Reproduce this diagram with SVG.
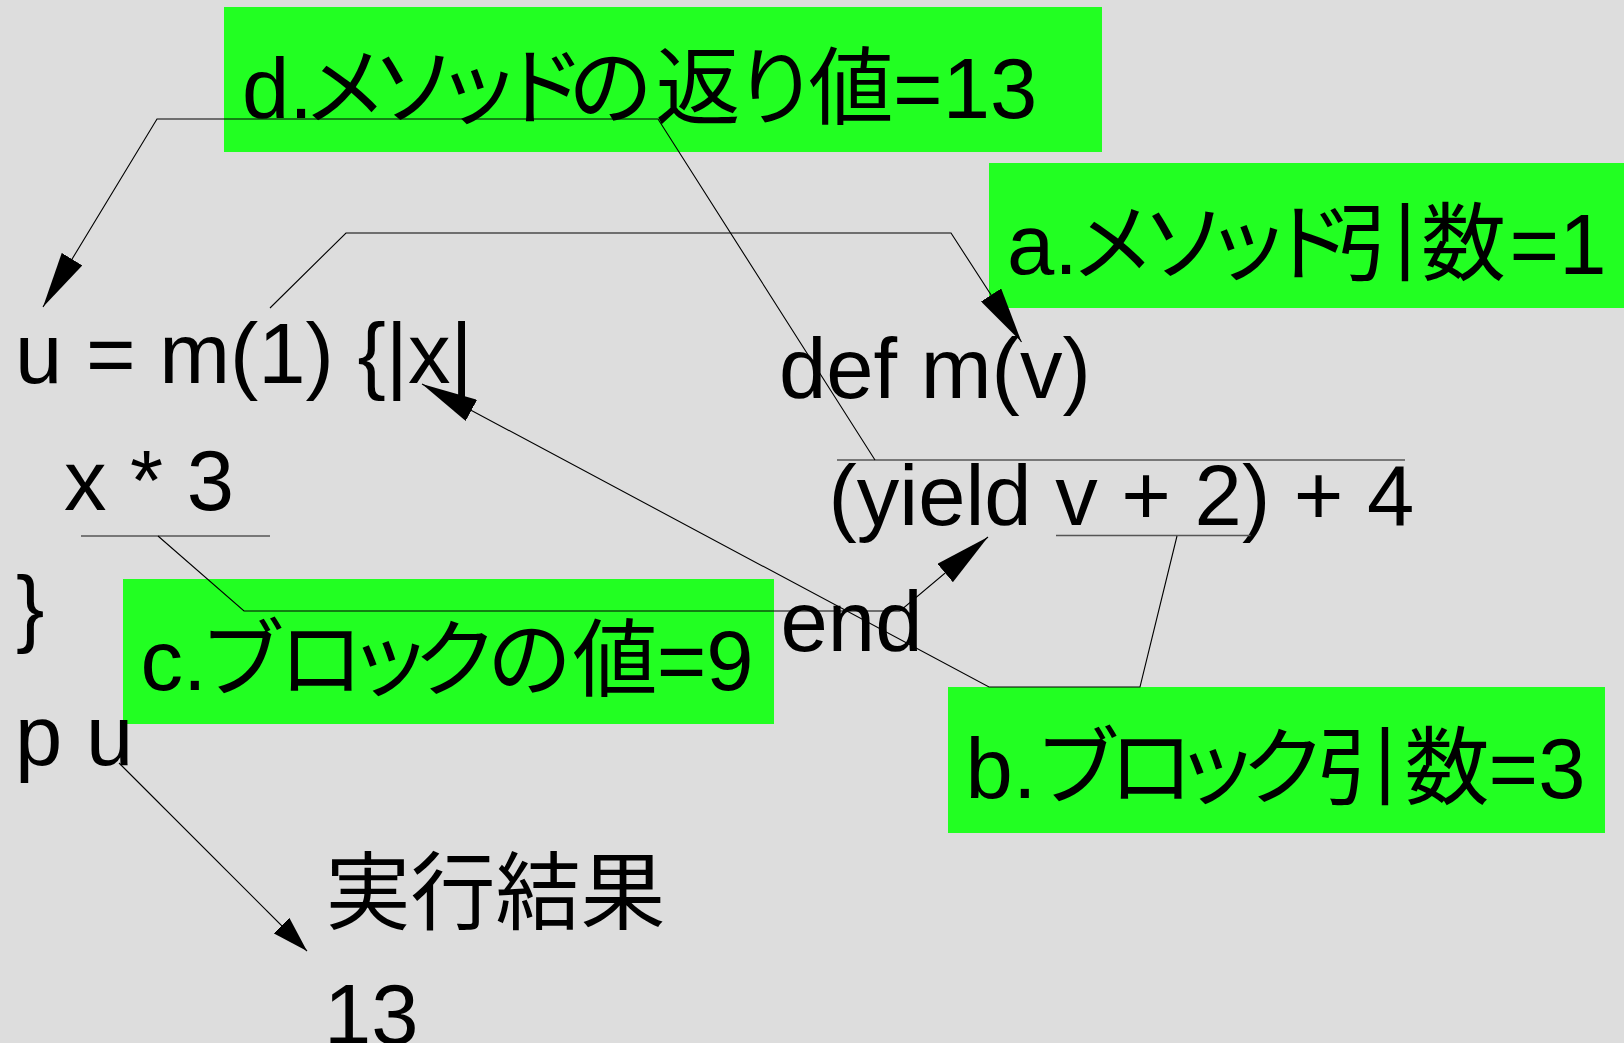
<svg xmlns="http://www.w3.org/2000/svg" width="1624" height="1043" viewBox="0 0 1624 1043">
<defs>
<style>
.t{font-family:"Liberation Sans","Noto Sans CJK JP",Arial,sans-serif;font-size:85px;fill:#000}
.box{fill:#22ff22}
.ln{fill:none;stroke:#000;stroke-width:1.1}
.ul{fill:none;stroke:#555;stroke-width:1.6}
</style>
<marker id="ah" markerUnits="userSpaceOnUse" viewBox="0 0 56 24" refX="56" refY="12" markerWidth="56" markerHeight="24" orient="auto"><path d="M0,0 L56,12 L0,24 z" fill="#000"/></marker>
<marker id="ahs" markerUnits="userSpaceOnUse" viewBox="0 0 36 22" refX="36" refY="11" markerWidth="36" markerHeight="22" orient="auto"><path d="M0,0 L36,11 L0,22 z" fill="#000"/></marker>
</defs>
<rect width="1624" height="1043" fill="#dddddd"/>

<g id="label-d">
<rect class="box" x="224" y="7" width="878" height="145"/>
<text class="t" x="242 289.3 302.5 371.5 436 500.5 568 655.5 733.5 808.5 893" y="118">d.メソッドの返り値=13</text>
</g>
<g id="label-a">
<rect class="box" x="989" y="163" width="635" height="145"/>
<text class="t" x="1007 1054.3 1070.3 1141.5 1205.4 1269 1336 1421 1509.5" y="274">a.メソッド引数=1</text>
</g>
<g id="label-c">
<rect class="box" x="123" y="579" width="651" height="145"/>
<text class="t" x="140.5 183 199.5 278.5 347.5 413 487 572.5 656.7" y="690">c.ブロックの値=9</text>
</g>
<g id="label-b">
<rect class="box" x="948" y="687" width="657" height="146"/>
<text class="t" x="965.6 1012.9 1034.5 1108.5 1174.5 1241 1316 1404.5 1488.6" y="798">b.ブロック引数=3</text>
</g>

<g id="code-call"><text class="t" x="15" y="383">u = m(1) {|x|</text></g>
<g id="code-block"><text class="t" x="64" y="510">x * 3</text></g>
<g id="code-close"><text class="t" x="16" y="636">}</text></g>
<g id="code-print"><text class="t" x="15" y="765">p u</text></g>
<g id="code-def"><text class="t" x="779" y="398">def m(v)</text></g>
<g id="code-yield"><text class="t" x="828.5" y="525">(yield v + 2) + 4</text></g>
<g id="code-end"><text class="t" x="780.6" y="651">end</text></g>
<g id="result-title"><text class="t" x="325.5" y="923">実行結果</text></g>
<g id="result-value"><text class="t" x="324" y="1044">13</text></g>

<g id="connectors">
<line class="ul" x1="837" y1="460" x2="1405" y2="460"/>
<line class="ul" x1="1056" y1="535.5" x2="1250.5" y2="535.5"/>
<line class="ul" x1="81" y1="536" x2="270" y2="536"/>
<polyline class="ln" points="875,460 658,119 157,119 43,307" marker-end="url(#ah)"/>
<polyline class="ln" points="270,308 346,233 951,233 1021.5,342" marker-end="url(#ah)"/>
<polyline class="ln" points="1177,536 1140,687 989,687 422,384" marker-end="url(#ah)"/>
<polyline class="ln" points="158,536 244,611 900,611 988,537" marker-end="url(#ah)"/>
<line class="ln" x1="119" y1="763" x2="307" y2="951" marker-end="url(#ahs)"/>
</g>
</svg>
